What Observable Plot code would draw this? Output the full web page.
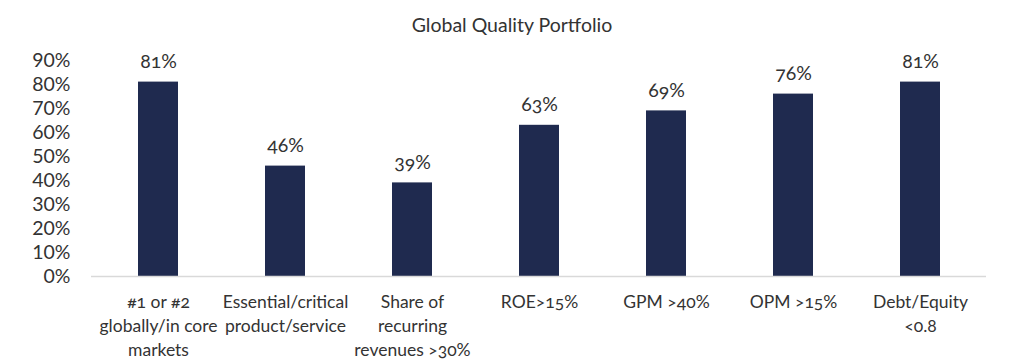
<!DOCTYPE html>
<html>
<head>
<meta charset="utf-8">
<script src="https://cdn.jsdelivr.net/npm/d3@7"></script>
<script src="https://cdn.jsdelivr.net/npm/@observablehq/plot@0.6"></script>
<style>
  body { margin: 0; background: #fff; font-family: Lato, sans-serif; }
  #wrap { width: 1024px; height: 364px; position: relative; overflow: hidden; }
  #title { position: absolute; top: 0; left: 0; width: 1024px; height: 44px; line-height: 50px;
           text-align: center; font-size: 19.5px; color: #333; font-variant-numeric: oldstyle-nums; }
  #chart { position: absolute; top: 44px; left: 0; }
  svg { font-variant-numeric: oldstyle-nums; }
</style>
</head>
<body>
<div id="wrap">
  <div id="title">Global Quality Portfolio</div>
  <div id="chart"></div>
</div>
<script>
const categories = [
  "#1 or #2\nglobally/in core\nmarkets",
  "Essential/critical\nproduct/service",
  "Share of\nrecurring\nrevenues >30%",
  "ROE>15%",
  "GPM >40%",
  "OPM >15%",
  "Debt/Equity\n<0.8"
];
const values = [81, 46, 39, 63, 69, 76, 81];
const yTicks = [0, 10, 20, 30, 40, 50, 60, 70, 80, 90];

const data = categories.map((c, i) => ({category: c, value: values[i]}));

const chart = Plot.plot({
  width: 1024,
  height: 320,
  marginTop: 16,
  marginBottom: 88,
  marginLeft: 91,
  marginRight: 38,
  style: {fontFamily: "Lato, sans-serif", color: "#333", background: "#fff"},
  x: {domain: categories, paddingInner: 0.687, paddingOuter: 0.346, label: null},
  y: {domain: [0, 90], ticks: yTicks, label: null},
  marks: [
    Plot.axisY({ticks: yTicks, tickSize: 0, tickPadding: 21, fontSize: 19.5, tickFormat: d => d + "%", fill: "#333"}),
    Plot.axisX({tickSize: 0, tickPadding: 15, fontSize: 17.5, lineHeight: 1.35, fill: "#333"}),
    Plot.barY(data, {x: "category", y: "value", fill: "#1f2a4f"}),
    Plot.ruleY([0], {stroke: "#d9d9d9", strokeWidth: 1.5}),
    Plot.text(data, {x: "category", y: "value", text: d => d.value + "%", dy: -14, lineAnchor: "bottom", fontSize: 19.5, fill: "#333"})
  ]
});
document.getElementById("chart").appendChild(chart);
</script>
</body>
</html>
